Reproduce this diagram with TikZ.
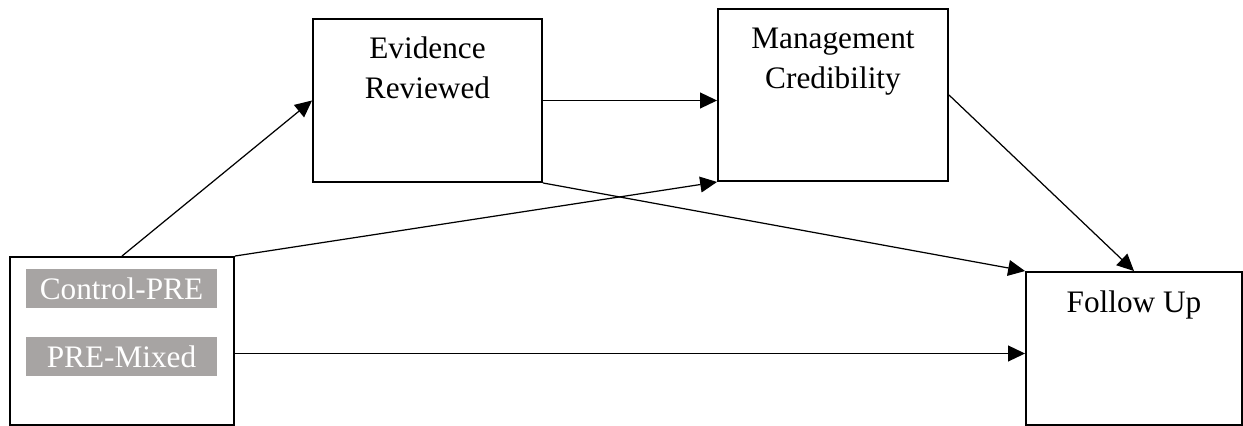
\documentclass[tikz,border=0pt]{standalone}
\usepackage{fontspec}
\setmainfont{Liberation Serif}
\usetikzlibrary{arrows.meta}
\definecolor{labelgray}{RGB}{167,164,163}
\tikzset{
	box/.style={draw=black, line width=1.1pt, rectangle, inner sep=0pt},
	tag/.style={fill=labelgray, text=white, minimum width=3.82cm, minimum height=0.78cm, inner sep=0pt},
	lbl/.style={align=center, anchor=base, inner sep=0pt},
	arr/.style={line width=0.7pt, -{Triangle[length=9.6pt, width=9pt]}}
}
\begin{document}
\begin{tikzpicture}[font=\fontsize{17.8}{22.3}\selectfont]
		\useasboundingbox (0, 0) rectangle (24.86, 8.52);
		\node[box, minimum width=4.48cm, minimum height=3.36cm] (cond) at (2.44, 1.70) {};
		\node[box, minimum width=4.58cm, minimum height=3.26cm] (evid) at (8.55, 6.51) {};
		\node[box, minimum width=4.60cm, minimum height=3.44cm] (mgmt) at (16.66, 6.62) {};
		\node[box, minimum width=4.32cm, minimum height=3.06cm] (follow) at (22.68, 1.55) {};
		\node[tag] (ctrl) at (2.43, 2.75) {Control-PRE};
		\node[tag] (mixed) at (2.43, 1.39) {PRE-Mixed};
		% base anchor sits on the last line
		\node[lbl] (evidtxt) at ([yshift=-1.60cm]evid.north) {Evidence\\Reviewed};
		\node[lbl] (mgmttxt) at ([yshift=-1.60cm]mgmt.north) {Management\\Credibility};
		\node[lbl] (followtxt) at ([yshift=-0.82cm]follow.north) {Follow Up};
		\draw[arr] (cond.north) -- (evid.west);
		\draw[arr] (cond.north east) -- (mgmt.south west);
		\draw[arr] ([yshift=-0.1cm]cond.east |- follow.west) -- ([yshift=-0.1cm]follow.west);
		\draw[arr] (evid.east) -- (evid.east -| mgmt.west);
		\draw[arr] (evid.south east) -- (follow.north west);
		\draw[arr] (mgmt.east) -- (follow.north);
	\end{tikzpicture}
\end{document}
